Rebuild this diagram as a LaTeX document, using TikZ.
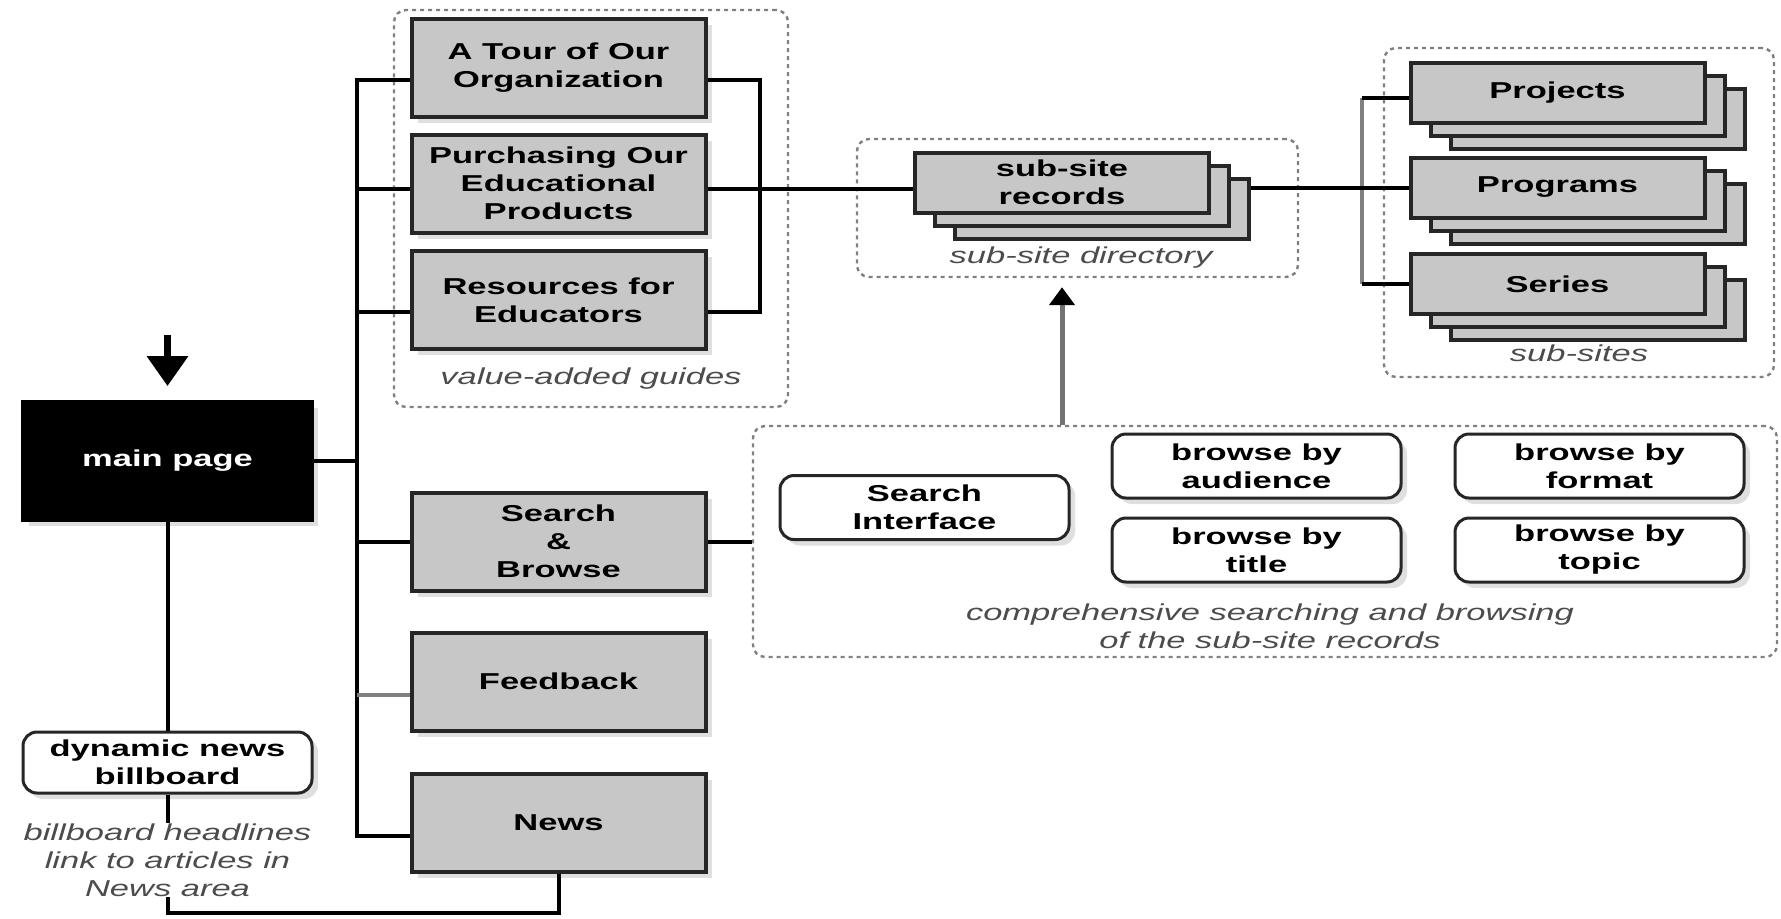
\documentclass[tikz,border=0pt]{standalone}
\usepackage{fontspec}
\newfontfamily\diagfont[FakeStretch=1.5]{Liberation Sans}
\usetikzlibrary{arrows.meta,shadows}

\newcommand\pagestack[4]{
        \node [stackpage, name=#1c] at (#2+40,#3+26) {};
        \node [stackpage, name=#1b] at (#2+20,#3+13) {};
        \node [stackpage, name=#1] at (#2,#3) {#4};
}

\begin{document}
\begin{tikzpicture}[x=0.5pt, y=-0.5pt,
        box/.style={draw=black!85, line width=2pt, fill=black!22, minimum width=147pt,
          minimum height=49pt, inner sep=0pt, align=center,
          font=\diagfont\fontsize{11.5}{14}\selectfont\bfseries},
        page/.style={box, drop shadow={shadow xshift=3pt, shadow yshift=-3pt, opacity=.25}},
        stackpage/.style={box, minimum height=30pt},
        mainpage/.style={page, fill=black, draw=black, text=white, minimum width=144.5pt, minimum height=59pt},
        tab/.style={draw=black!85, line width=1.5pt, fill=white, rounded corners=7pt,
          minimum width=144.5pt, minimum height=32pt, inner sep=0pt, align=center,
          font=\diagfont\fontsize{11.5}{14}\selectfont\bfseries,
          drop shadow={shadow xshift=3pt, shadow yshift=-3pt, opacity=.25}},
        group/.style={draw=black!50, line width=1.2pt, dash pattern=on 2pt off 2pt,
          rounded corners=6pt, inner sep=0pt},
        caption/.style={font=\diagfont\fontsize{11.5}{14}\selectfont\itshape, text=black!70,
          align=center, inner sep=0pt},
        link/.style={line width=2pt, black},
        inlet/.style={line width=3.5pt, -{Triangle[length=15pt, width=20pt]}, shorten >=7pt},
        feed/.style={line width=2.5pt, black!55, -{Triangle[length=9pt, width=12.5pt, color=black]},
          shorten >=4.5pt}
        ]
        \useasboundingbox (0,0) rectangle (1781,918);

        \node [group, name=guides, minimum width=197pt, minimum height=198.5pt] at (591,208.5) {};
        \node [group, name=subdir, minimum width=220.5pt, minimum height=69pt] at (1077.5,208) {};
        \node [group, name=subsites, minimum width=195pt, minimum height=164.5pt] at (1579,212.5) {};
        \node [group, name=comp, minimum width=512pt, minimum height=115.5pt] at (1265,541.5) {};

        \node [mainpage, name=main] at (167.5,461) {main page};
        \node [page, name=tour] at (558.5,67.5) {A Tour of Our\\Organization};
        \node [page, name=purch] at (558.5,183.5) {Purchasing Our\\Educational\\Products};
        \node [page, name=res] at (558.5,300) {Resources for\\Educators};
        \node [page, name=search] at (558.5,541.5) {Search\\\&\\Browse};
        \node [page, name=feedback] at (558.5,681.5) {Feedback};
        \node [page, name=news] at (558.5,822.5) {News};

        \pagestack{subsite}{1062}{182.5}{sub-site\\records}
        \pagestack{projects}{1557.5}{93}{Projects}
        \pagestack{programs}{1557.5}{187.5}{Programs}
        \pagestack{series}{1557.5}{284}{Series}

        \node [tab, name=searchui] at (924.5,507.5) {Search\\Interface};
        \node [tab, name=audience] at (1256.5,466) {browse by\\audience};
        \node [tab, name=format] at (1599.5,466) {browse by\\format};
        \node [tab, name=title] at (1256.5,550) {browse by\\title};
        \node [tab, name=topic] at (1599.5,550) {browse by\\topic};
        \node [tab, name=billboard, minimum height=30.5pt] at (167.5,762.5) {dynamic news\\billboard};

        \node [caption] at (591,379) {value-added guides};
        \node [caption] at (1081,258) {sub-site directory};
        \node [caption] at (1579,353) {sub-sites};
        \node [caption] at (1270,626) {comprehensive searching and browsing\\of the sub-site records};
        \node [caption, name=bbnote] at (167.5,860) {billboard headlines\\link to articles in\\News area};

        \coordinate (lbus) at (357,0);
        \coordinate (rbus) at (760,0);
        \coordinate (sbus) at (1362,0);
        \coordinate (entry) at (167.5,335);
        \coordinate (newsfoot) at (167.5,913);
        \coordinate (tourin) at ([yshift=-6pt]tour.west);
        \coordinate (purchin) at ([yshift=-2.5pt]purch.west);
        \coordinate (resin) at ([yshift=-6pt]res.west);
        \coordinate (feedin) at ([yshift=-6.5pt]feedback.west);
        \coordinate (newsin) at ([yshift=-6.5pt]news.west);
        \coordinate (tourout) at ([yshift=-6pt]tour.east);
        \coordinate (purchout) at ([yshift=-2.5pt]purch.east);
        \coordinate (resout) at ([yshift=-6pt]res.east);
        \coordinate (projin) at ([yshift=-2.5pt]projects.west);

        \draw [inlet] (entry) -- (main.north);
        \draw [link] (tourin) -| (lbus |- newsin) -- (newsin);
        \draw [link] (main.east) -- (lbus |- main.east);
        \draw [link] (purchin) -- (lbus |- purchin);
        \draw [link] (resin) -- (lbus |- resin);
        \draw [link] (search.west) -- (lbus |- search.west);
        \draw [link, black!50] (feedin) -- (lbus |- feedin);

        \draw [link] (tourout) -| (rbus |- resout) -- (resout);
        \draw [link] (purchout) -- (purchout -| subsite.west);

        \draw [link, black!50] (sbus |- projin) -- (sbus |- series.west);
        \draw [link] (projin) -- (sbus |- projin);
        \draw [link] (series.west) -- (sbus |- series.west);
        \draw [link] (subsitec.east |- programs.west) -- (programs.west);

        \draw [link] (search.east) -- (search.east -| comp.west);
        \draw [feed] (subsite.south |- comp.north) -- (subsite.south |- subdir.south);

        \draw [link] (main.south) -- (billboard.north);
        \draw [link] (billboard.south) -- (bbnote.north);
        \draw [link] (news.south) |- (newsfoot) -- (bbnote.south);
\end{tikzpicture}
\end{document}
